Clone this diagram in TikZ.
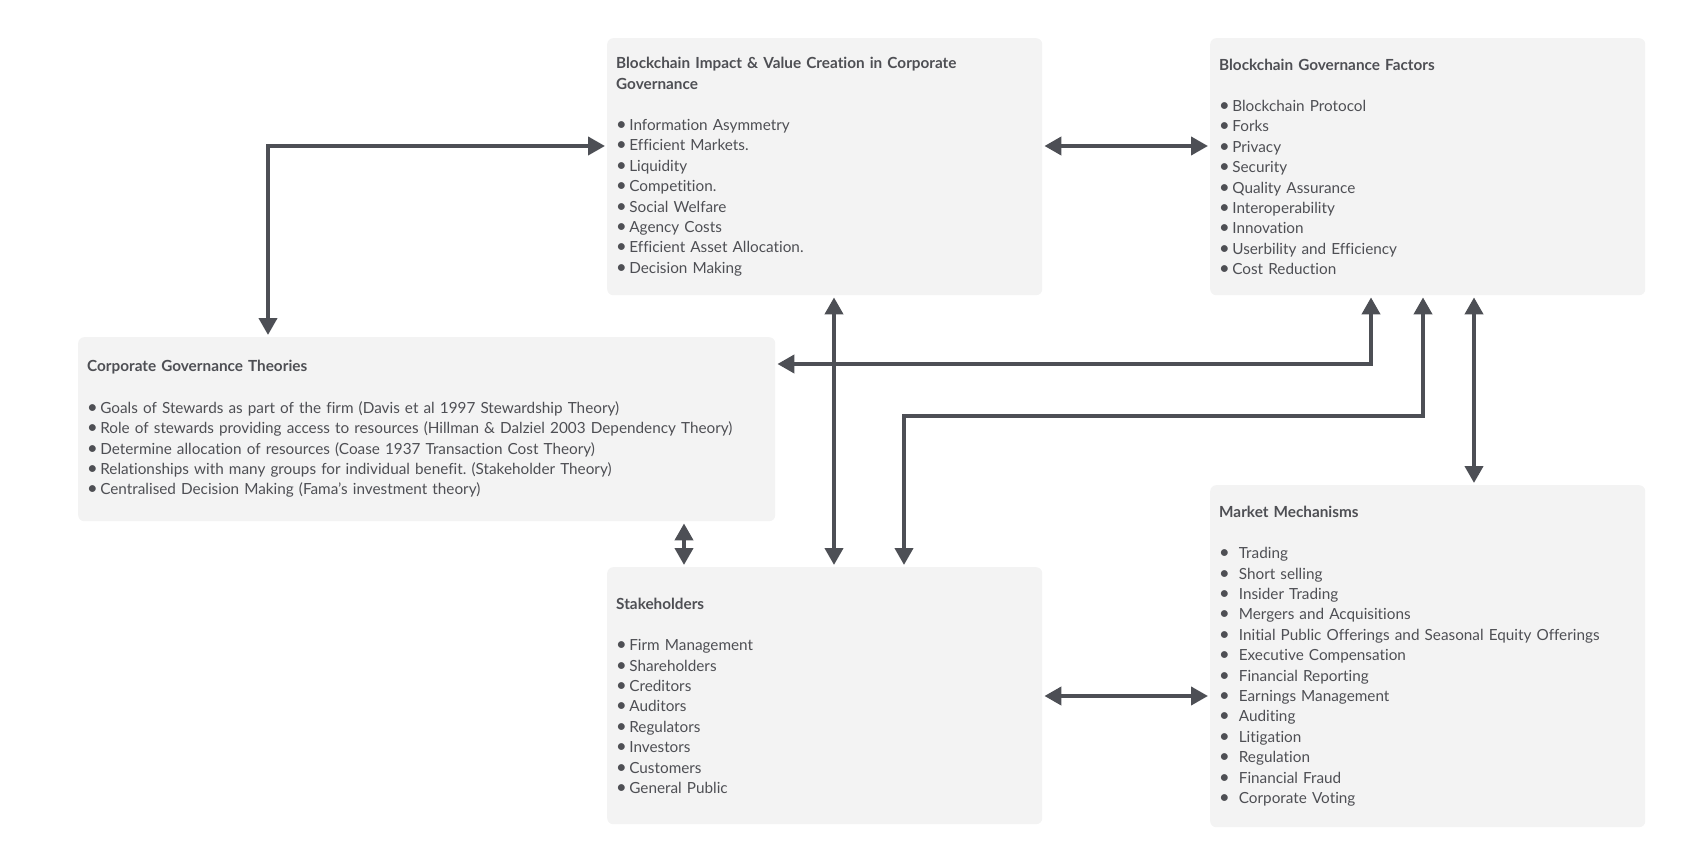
\documentclass[tikz,border=0pt]{standalone}
\usepackage{fontspec}
\setmainfont{Lato}[Ligatures=NoCommon]
\usetikzlibrary{arrows.meta}
\frenchspacing

\definecolor{boxgray}{HTML}{F3F3F3}
\definecolor{inkgray}{HTML}{4D4F55}
\definecolor{textgray}{HTML}{4E4F54}

\newcommand{\bul}{\scalebox{1.2}{\textbullet}\hspace{2.5pt}}
\newcommand{\mbul}{\scalebox{1.2}{\textbullet}\hspace{9pt}}

\begin{document}
\begin{tikzpicture}[x=1pt,y=-1pt]
\tikzstyle{block} = [rectangle, fill=boxgray, rounded corners=6pt, anchor=north west,
align=left, text=textgray, inner xsep=9pt, font=\fontsize{15.3}{20.4}\selectfont]
\tikzstyle{line} = [draw=inkgray, line width=4pt, shorten >=2pt, shorten <=2pt,
{Triangle[length=17pt,width=18pt]}-{Triangle[length=17pt,width=18pt]}];
\useasboundingbox (0,0) rectangle (1694,850);

% top row
\node [block, text width=417pt, minimum height=257pt] (impact) at (607,38)
{\textbf{Blockchain Impact \& Value Creation in Corporate}\\
\textbf{Governance}\\[21pt]
\bul Information Asymmetry\\
\bul Efficient Markets.\\
\bul Liquidity\\
\bul Competition.\\
\bul Social Welfare\\
\bul Agency Costs\\
\bul Efficient Asset Allocation.\\
\bul Decision Making};
\node [block, text width=417pt, minimum height=257pt] (factors) at (1210,38)
{\textbf{Blockchain Governance Factors}\\[21pt]
\bul Blockchain Protocol\\
\bul Forks\\
\bul Privacy\\
\bul Security\\
\bul Quality Assurance\\
\bul Interoperability\\
\bul Innovation\\
\bul Userbility and Efficiency\\
\bul Cost Reduction};
% middle
\node [block, text width=679pt, minimum height=184pt] (theories) at (78,337)
{\textbf{Corporate Governance Theories}\\[21pt]
\bul Goals of Stewards as part of the firm (Davis et al 1997 Stewardship Theory)\\
\bul Role of stewards providing access to resources (Hillman \& Dalziel 2003 Dependency Theory)\\
\bul Determine allocation of resources (Coase 1937 Transaction Cost Theory)\\
\bul Relationships with many groups for individual benefit. (Stakeholder Theory)\\
\bul Centralised Decision Making (Fama's investment theory)};
% bottom row
\node [block, text width=417pt, minimum height=257pt] (stake) at (607,567)
{\textbf{Stakeholders}\\[21pt]
\bul Firm Management\\
\bul Shareholders\\
\bul Creditors\\
\bul Auditors\\
\bul Regulators\\
\bul Investors\\
\bul Customers\\
\bul General Public};
\node [block, text width=417pt, minimum height=342pt] (market) at (1210,485)
{\textbf{Market Mechanisms}\\[21pt]
\mbul Trading\\
\mbul Short selling\\
\mbul Insider Trading\\
\mbul Mergers and Acquisitions\\
\mbul Initial Public Offerings and Seasonal Equity Offerings\\
\mbul Executive Compensation\\
\mbul Financial Reporting\\
\mbul Earnings Management\\
\mbul Auditing\\
\mbul Litigation\\
\mbul Regulation\\
\mbul Financial Fraud\\
\mbul Corporate Voting};

\tikzstyle{every path}=[line]
\path (impact.west |- 0,146) -| (theories.north -| 268,0);
\path (impact.east |- 0,146) -- (factors.west |- 0,146);
\path (impact.south -| 834,0) -- (stake.north -| 834,0);
\path (factors.south -| 1371,0) |- (theories.east |- 0,364);
\path (factors.south -| 1423,0) |- (904,416) -- (stake.north -| 904,0);
\path (factors.south -| 1474,0) -- (market.north -| 1474,0);
\path (theories.south -| 684,0) -- (stake.north -| 684,0);
\path (stake.east |- 0,696) -- (market.west |- 0,696);

\end{tikzpicture}
\end{document}
